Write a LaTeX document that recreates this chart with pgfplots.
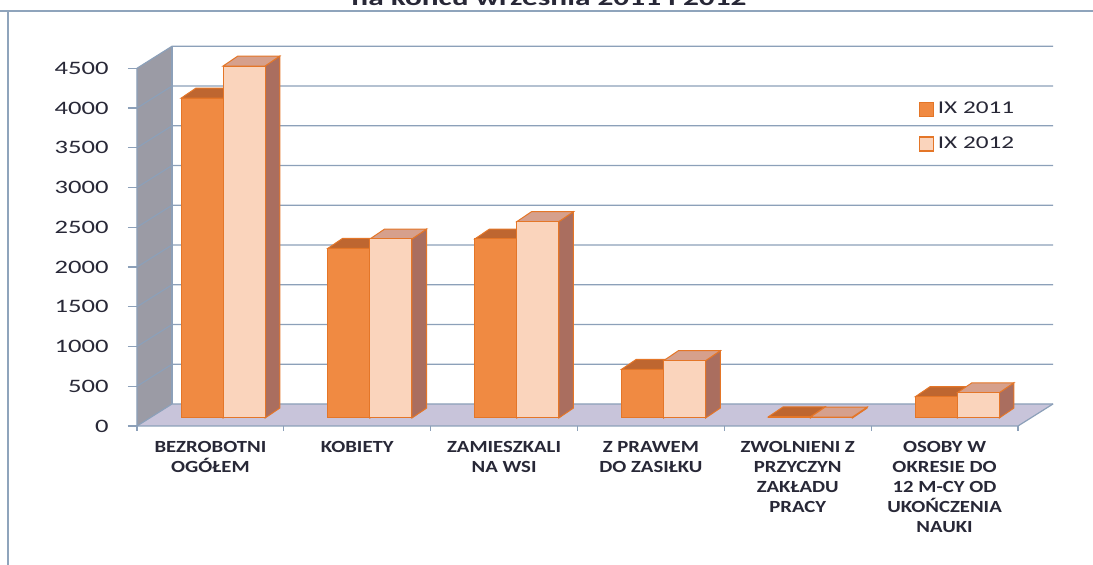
\documentclass[border=0pt]{standalone}
\usepackage{pgfplots}
\pgfplotsset{compat=1.18}
\usepackage{pgfplotstable}
\usepackage{fontspec}
\setmainfont{Carlito}[FakeStretch=1.4]
\newfontfamily\catfont{Carlito}[FakeStretch=1.22]
\definecolor{cA}{RGB}{240,138,66}
\definecolor{cAtop}{RGB}{190,102,48}
\definecolor{cAside}{RGB}{170,90,50}
\definecolor{cB}{RGB}{250,212,188}
\definecolor{cBtop}{RGB}{214,160,140}
\definecolor{cBside}{RGB}{170,110,95}
\definecolor{edgec}{RGB}{228,118,40}
\definecolor{floorc}{RGB}{200,196,218}
\definecolor{wallc}{RGB}{155,155,165}
\definecolor{gridc}{RGB}{140,160,185}
\definecolor{framec}{RGB}{143,164,188}
\definecolor{textc}{RGB}{40,40,55}

\pgfplotstableread{
cat a b
0 4024 4428
1 2135 2252
2 2252 2470
3 613 721
4 15 12
5 268 318
}\data

\begin{document}
\begin{tikzpicture}
\useasboundingbox (0,0) rectangle (546.5pt,282.5pt);
\clip (0,0) rectangle (546.5pt,282.5pt);
\fill[white] (0,0) rectangle (546.5pt,282.5pt);
\node[font=\fontsize{11.2}{13}\selectfont\bfseries, anchor=base, text=textc, inner sep=0pt] at (274.5pt,279.5pt) {na końcu września 2011 i 2012};
\draw[framec, line width=0.9pt] (0,277pt) -- (546.5pt,277pt);
\draw[framec, line width=0.9pt] (4pt,277pt) -- (4pt,0);

\begin{axis}[
  at={(68.5pt,69.5pt)}, anchor=south west,
  scale only axis, width=440.5pt, height=178.85pt,
  xmin=-0.5, xmax=5.5, ymin=0, ymax=4500, clip=false,
  axis line style={draw=none},
  tick pos=left,
  ytick={0,500,...,4500}, tick align=outside, major tick length=4.5pt,
  ytick style={draw=gridc, line width=0.6pt},
  yticklabel style={font=\fontsize{9.5}{11}\selectfont, text=textc, anchor=east, inner sep=0pt, xshift=-9.5pt},
  /pgf/number format/assume math mode=true,
  /pgf/number format/1000 sep={},
  xtick={0,...,5}, xtick style={draw=none},
  xticklabels={{BEZROBOTNI\\OGÓŁEM},{KOBIETY},{ZAMIESZKALI\\NA WSI},{Z PRAWEM\\DO ZASIŁKU},{ZWOLNIENI Z\\PRZYCZYN\\ZAKŁADU\\PRACY},{OSOBY W\\OKRESIE DO\\12 M-CY OD\\UKOŃCZENIA\\NAUKI}},
  xticklabel style={font=\catfont\fontsize{8.5}{10}\selectfont\bfseries, text=textc, align=center, anchor=north, inner sep=0pt, yshift=-3pt},
  legend style={draw=none, fill=none, at={(axis cs:4.78,4183)}, anchor=north west,
    font=\fontsize{9}{11}\selectfont, text=textc, row sep=6pt},
  legend cell align=left,
  legend image code/.code={\draw[#1, line width=0.6pt] (0pt,-3.5pt) rectangle (7pt,3.5pt);},
]
% floor
\fill[floorc] (axis cs:-0.5,0) -- (axis cs:5.5,0) -- (axis cs:5.7384,277) -- (axis cs:-0.2616,277) -- cycle;
% left wall
\fill[wallc] (axis cs:-0.5,0) -- (axis cs:-0.5,4500) -- (axis cs:-0.2616,4777) -- (axis cs:-0.2616,277) -- cycle;
\pgfplotsinvokeforeach{0,500,...,4500}{
  \pgfmathtruncatemacro\yy{#1+277}
  \edef\tmp{\noexpand\draw[gridc, line width=0.6pt] (axis cs:-0.5,#1) -- (axis cs:-0.2616,\yy) -- (axis cs:5.7384,\yy);}
  \tmp
}
\draw[gridc, line width=0.6pt] (axis cs:-0.2616,277) -- (axis cs:-0.2616,4777);
\draw[gridc, line width=0.6pt] (axis cs:-0.5,4500) -- (axis cs:-0.5,0) -- (axis cs:5.5,0) -- (axis cs:5.7384,277);
\pgfplotsinvokeforeach{-0.5,0.5,1.5,2.5,3.5,4.5,5.5}{
  \draw[gridc, line width=0.6pt] (axis cs:#1,0) -- ([yshift=-2.5pt]axis cs:#1,0);
}
\addlegendimage{fill=cA, draw=edgec}
\addlegendentry{IX 2011}
\addlegendimage{fill=cB, draw=edgec}
\addlegendentry{IX 2012}
\end{axis}

\begin{axis}[
  at={(74.85pt,73.5pt)}, anchor=south west,
  scale only axis, width=440.5pt, height=178.85pt,
  xmin=-0.5, xmax=5.5, ymin=0, ymax=4500, clip=false,
  hide axis, bar width=0.286,
]
\pgfplotsinvokeforeach{0,...,5}{
  \pgfplotstablegetelem{#1}{a}\of\data \let\va\pgfplotsretval
  \pgfmathsetmacro\L{#1-0.286}
  \pgfmathsetmacro\R{#1}
  \pgfmathsetmacro\Lp{\L+0.1}
  \pgfmathsetmacro\Rp{\R+0.1}
  \pgfmathsetmacro\vt{\va+125}
  \edef\tmp{\noexpand\addplot[fill=cAside, draw=edgec, line width=0.5pt] coordinates {(\R,0) (\Rp,125) (\Rp,\vt) (\R,\va)} -- cycle;
  \noexpand\addplot[fill=cAtop, draw=edgec, line width=0.5pt] coordinates {(\L,\va) (\R,\va) (\Rp,\vt) (\Lp,\vt)} -- cycle;}
  \tmp
}
\addplot[ybar, bar shift=-0.143, fill=cA, draw=edgec, line width=0.5pt] table[x=cat, y=a] {\data};
\pgfplotsinvokeforeach{0,...,5}{
  \pgfplotstablegetelem{#1}{b}\of\data \let\vb\pgfplotsretval
  \pgfmathsetmacro\L{#1}
  \pgfmathsetmacro\R{#1+0.286}
  \pgfmathsetmacro\Lp{\L+0.1}
  \pgfmathsetmacro\Rp{\R+0.1}
  \pgfmathsetmacro\vt{\vb+125}
  \edef\tmp{\noexpand\addplot[fill=cBside, draw=edgec, line width=0.5pt] coordinates {(\R,0) (\Rp,125) (\Rp,\vt) (\R,\vb)} -- cycle;
  \noexpand\addplot[fill=cBtop, draw=edgec, line width=0.5pt] coordinates {(\L,\vb) (\R,\vb) (\Rp,\vt) (\Lp,\vt)} -- cycle;}
  \tmp
}
\addplot[ybar, bar shift=0.143, fill=cB, draw=edgec, line width=0.5pt] table[x=cat, y=b] {\data};
\end{axis}
\end{tikzpicture}
\end{document}
